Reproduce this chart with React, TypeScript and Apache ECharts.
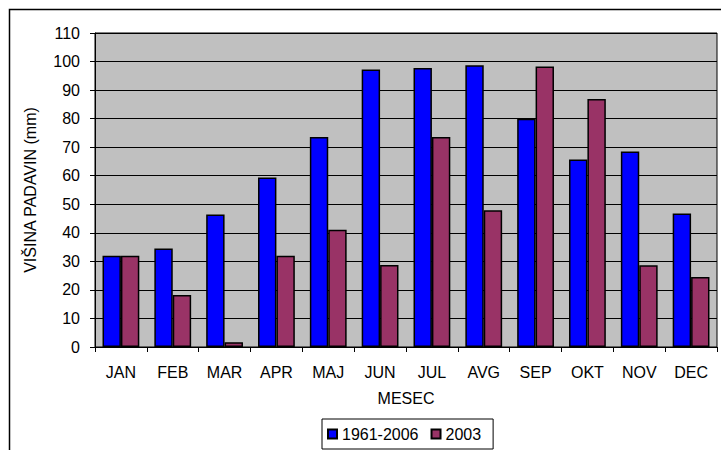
import React, { useEffect, useRef } from "react";
import * as echarts from "echarts";

const months = ["JAN", "FEB", "MAR", "APR", "MAJ", "JUN", "JUL", "AVG", "SEP", "OKT", "NOV", "DEC"];
const avg19612006 = [32, 34.5, 46.4, 59.4, 73.6, 97.2, 97.7, 98.7, 80, 65.7, 68.5, 46.8];
const year2003 = [32, 18.2, 1.7, 32, 41.1, 28.7, 73.6, 47.9, 98.3, 86.9, 28.6, 24.5];
const seriesNames = ["1961-2006", "2003"];
const FONT = "Arial, 'Liberation Sans', sans-serif";

export default function App() {
  const ref = useRef<HTMLDivElement>(null);
  useEffect(() => {
    document.body.style.margin = "0";
    const chart = echarts.init(ref.current!, undefined, { renderer: "svg" });
    chart.setOption({
      animation: false,
      backgroundColor: "#ffffff",
      textStyle: { fontFamily: FONT, color: "#000" },
      graphic: [
        {
          type: "rect",
          z: -10,
          silent: true,
          shape: { x: 9.5, y: 9.5, width: 800, height: 600 },
          style: { fill: "#ffffff", stroke: "#000", lineWidth: 1.5 },
        },
      ],
      grid: {
        left: 95,
        top: 33,
        right: 4,
        bottom: 103,
        show: true,
        backgroundColor: "#C0C0C0",
        borderColor: "#000",
        borderWidth: 1,
      },
      legend: {
        left: 322,
        top: 419,
        data: seriesNames,
        icon: "rect",
        itemWidth: 9,
        itemHeight: 9,
        itemGap: 12,
        padding: [7, 12, 7, 5],
        borderColor: "#000",
        borderWidth: 1,
        backgroundColor: "#fff",
        textStyle: { fontFamily: FONT, fontSize: 16, color: "#000", padding: [0, 0, 0, 0] },
      },
      xAxis: {
        type: "category",
        data: months,
        name: "MESEC",
        nameLocation: "middle",
        nameGap: 43,
        nameTextStyle: { fontFamily: FONT, fontSize: 16, color: "#000" },
        axisLine: { lineStyle: { color: "#000", width: 1 } },
        axisTick: { show: true, length: 5, alignWithLabel: false, lineStyle: { color: "#000" } },
        axisLabel: { fontFamily: FONT, fontSize: 16, color: "#000", margin: 17 },
      },
      yAxis: {
        type: "value",
        min: 0,
        max: 110,
        interval: 10,
        name: "VIŠINA PADAVIN (mm)",
        nameLocation: "middle",
        nameGap: 57,
        nameTextStyle: { fontFamily: FONT, fontSize: 16, color: "#000" },
        axisLine: { show: true, lineStyle: { color: "#000", width: 1 } },
        axisTick: { show: true, length: 5, lineStyle: { color: "#000" } },
        axisLabel: { fontFamily: FONT, fontSize: 16, color: "#000", margin: 15 },
        splitLine: { show: true, lineStyle: { color: "#000", width: 1 } },
      },
      series: [
        {
          name: seriesNames[0],
          type: "bar",
          data: avg19612006,
          barGap: "0%",
          barCategoryGap: "29%",
          itemStyle: { color: "#0000FF", borderColor: "#000", borderWidth: 1.5 },
        },
        {
          name: seriesNames[1],
          type: "bar",
          data: year2003,
          barGap: "0%",
          barCategoryGap: "29%",
          itemStyle: { color: "#993366", borderColor: "#000", borderWidth: 1.5 },
        },
      ],
    });
    return () => chart.dispose();
  }, []);
  return <div ref={ref} style={{ width: 721, height: 450 }} />;
}
